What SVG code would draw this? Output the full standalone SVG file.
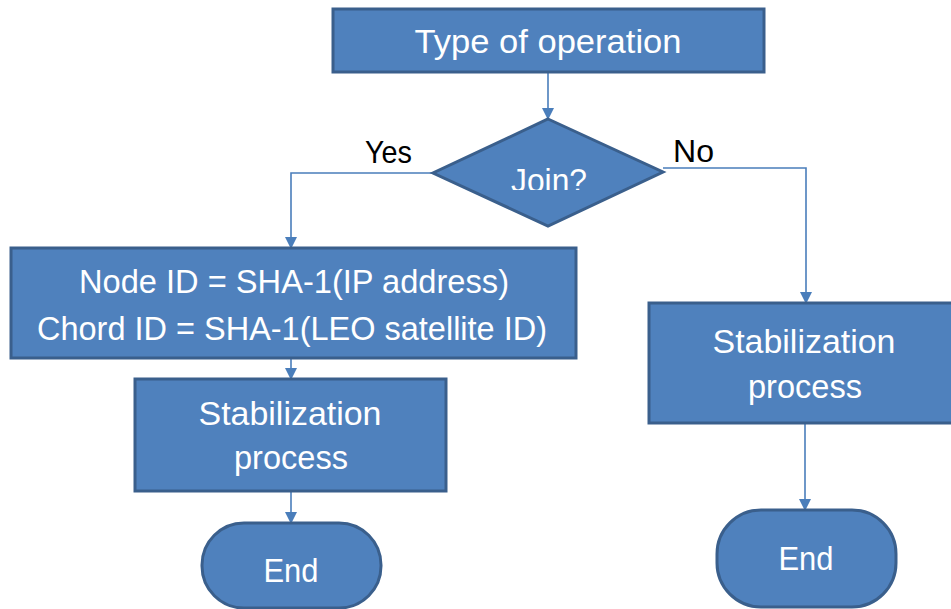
<svg xmlns="http://www.w3.org/2000/svg" width="951" height="609" viewBox="0 0 951 609">
  <defs>
    <style>
      .box { fill: #4f81bd; stroke: #3a5f8c; stroke-width: 3; }
      .lbl { font-family: "Liberation Sans", Arial, sans-serif; font-size: 33px; fill: #ffffff; text-anchor: middle; }
      .tag { font-family: "Liberation Sans", Arial, sans-serif; font-size: 32px; fill: #000000; }
      .wire { fill: none; stroke: #4a7ebb; stroke-width: 1.6; }
    </style>
    <marker id="arrow" viewBox="0 0 12 12" refX="11" refY="6" markerWidth="12" markerHeight="12" markerUnits="userSpaceOnUse" orient="auto">
      <path d="M0,0 L12,6 L0,12 Z" fill="#4a7ebb"/>
    </marker>
    <clipPath id="joinClip">
      <rect x="440" y="120" width="220" height="70"/>
    </clipPath>
  </defs>

  <g id="connectors">
    <path class="wire" d="M548,72 V119" marker-end="url(#arrow)"/>
    <path class="wire" d="M433,173 H291 V248" marker-end="url(#arrow)"/>
    <path class="wire" d="M663,168 H806 V303" marker-end="url(#arrow)"/>
    <path class="wire" d="M291,358 V379" marker-end="url(#arrow)"/>
    <path class="wire" d="M291,491 V523" marker-end="url(#arrow)"/>
    <path class="wire" d="M805,423 V510" marker-end="url(#arrow)"/>
    <text class="tag" x="365" y="163" textLength="47" lengthAdjust="spacingAndGlyphs">Yes</text>
    <text class="tag" x="673" y="162" textLength="41" lengthAdjust="spacingAndGlyphs">No</text>
  </g>

  <g id="type-of-operation">
    <rect class="box" x="333" y="9" width="431" height="63"/>
    <text class="lbl" x="548" y="53" textLength="267" lengthAdjust="spacingAndGlyphs">Type of operation</text>
  </g>

  <g id="join">
    <polygon class="box" points="548,119 663,172 548,226 433,173"/>
    <text class="lbl" x="549" y="192" clip-path="url(#joinClip)" textLength="76" lengthAdjust="spacingAndGlyphs">Join?</text>
  </g>

  <g id="compute-ids">
    <rect class="box" x="11" y="248" width="565" height="110"/>
    <text class="lbl" x="294" y="293" textLength="430" lengthAdjust="spacingAndGlyphs">Node ID = SHA-1(IP address)</text>
    <text class="lbl" x="292" y="340" textLength="510" lengthAdjust="spacingAndGlyphs">Chord ID = SHA-1(LEO satellite ID)</text>
  </g>

  <g id="stabilization-left">
    <rect class="box" x="135" y="379" width="311" height="112"/>
    <text class="lbl" x="290" y="425" textLength="183" lengthAdjust="spacingAndGlyphs">Stabilization</text>
    <text class="lbl" x="291" y="469" textLength="114" lengthAdjust="spacingAndGlyphs">process</text>
  </g>

  <g id="end-left">
    <rect class="box" x="202" y="523" width="179" height="85" rx="42" ry="42"/>
    <text class="lbl" x="291" y="582" textLength="55" lengthAdjust="spacingAndGlyphs">End</text>
  </g>

  <g id="stabilization-right">
    <rect class="box" x="649" y="303" width="312" height="120"/>
    <text class="lbl" x="804" y="353" textLength="183" lengthAdjust="spacingAndGlyphs">Stabilization</text>
    <text class="lbl" x="805" y="398" textLength="114" lengthAdjust="spacingAndGlyphs">process</text>
  </g>

  <g id="end-right">
    <rect class="box" x="717" y="510" width="179" height="97" rx="44" ry="44"/>
    <text class="lbl" x="806" y="570" textLength="55" lengthAdjust="spacingAndGlyphs">End</text>
  </g>
</svg>
